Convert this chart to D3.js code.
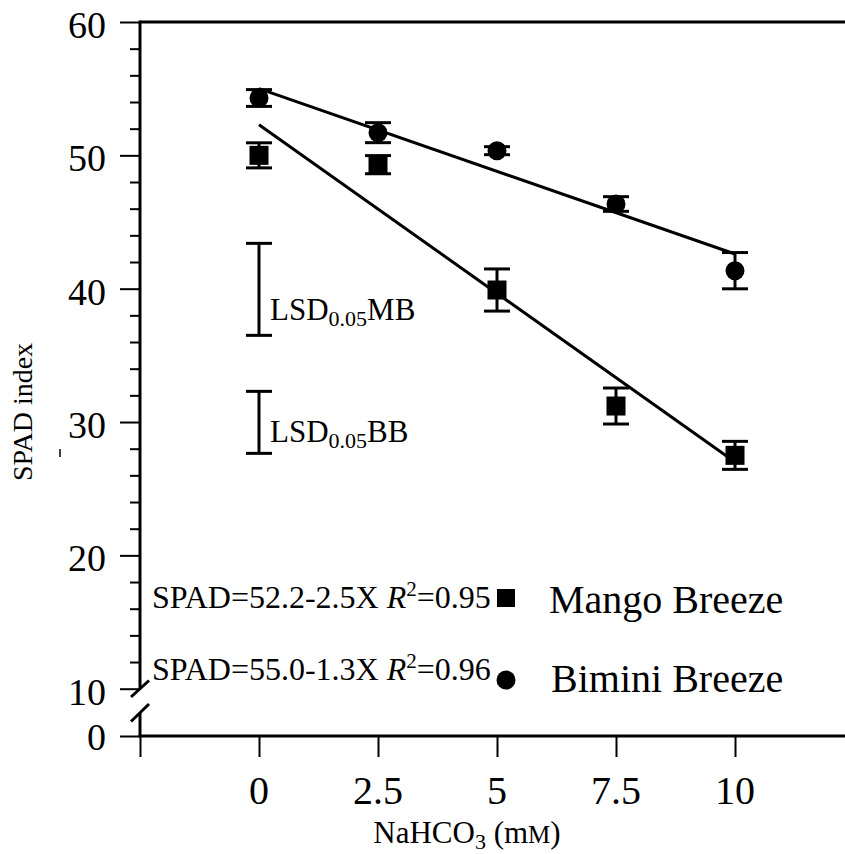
<!DOCTYPE html>
<html><head><meta charset="utf-8">
<script src="https://cdn.jsdelivr.net/npm/d3@7"></script>
<style>body{margin:0;background:#fff}svg{display:block}text{font-family:"Liberation Serif","Times New Roman",serif;fill:#000}</style>
</head><body><svg id="c" width="845" height="854"></svg>
<script>
// ---- data ----
const xValues = [0, 2.5, 5, 7.5, 10];
const xTickLabels = ["0", "2.5", "5", "7.5", "10"];
const mangoMeans = [50.0, 49.3, 39.9, 31.2, 27.5];
const mangoErr = [0.94, 0.68, 1.58, 1.35, 1.05];
const biminiMeans = [54.3, 51.7, 50.35, 46.35, 41.35];
const biminiErr = [0.63, 0.75, 0.3, 0.55, 1.36];
const mangoFit = [[0, 52.3], [10, 27.0]];
const biminiFit = [[0, 55.0], [10, 42.6]];
const lsdMB = [36.5, 43.4];
const lsdBB = [27.65, 32.3];
const yTicksUpper = [10, 20, 30, 40, 50, 60];
const yMinorUpper = [12, 14, 16, 18, 22, 24, 26, 28, 32, 34, 36, 38, 42, 44, 46, 48, 52, 54, 56, 58];
const yTickLower = [0];

const svg = d3.select("#c");
const x = d3.scaleLinear().domain([-2.5, 10]).range([140, 735]);
const y = d3.scaleLinear().domain([10, 60]).range([688.7, 22]);
const y0 = d3.scaleLinear().domain([0, 1]).range([736, 731.2]);
const axisX = x(-2.5);

// frame lines
svg.append("line").attr("x1", axisX).attr("x2", 845).attr("y1", y(60)).attr("y2", y(60)).attr("stroke", "#000").attr("stroke-width", 3);
svg.append("line").attr("x1", axisX - 1.5).attr("x2", 845).attr("y1", y0(0)).attr("y2", y0(0)).attr("stroke", "#000").attr("stroke-width", 3);
// left axis with break
svg.append("line").attr("x1", axisX).attr("x2", axisX).attr("y1", y(60) - 1.5).attr("y2", 689).attr("stroke", "#000").attr("stroke-width", 3);
svg.append("line").attr("x1", axisX).attr("x2", axisX).attr("y1", 713).attr("y2", y0(0)).attr("stroke", "#000").attr("stroke-width", 3);
svg.append("line").attr("x1", 131).attr("y1", 697).attr("x2", 149).attr("y2", 680.5).attr("stroke", "#000").attr("stroke-width", 3);
svg.append("line").attr("x1", 131).attr("y1", 721.5).attr("x2", 149).attr("y2", 704).attr("stroke", "#000").attr("stroke-width", 3);

// y ticks
const gU = svg.append("g").attr("transform", `translate(${axisX},0)`).call(d3.axisLeft(y).tickValues(yTicksUpper).tickSize(20).tickFormat(""));
gU.select(".domain").remove();
gU.selectAll(".tick line").attr("stroke-width", 2);
const gM = svg.append("g").attr("transform", `translate(${axisX},0)`).call(d3.axisLeft(y).tickValues(yMinorUpper).tickSize(10).tickFormat(""));
gM.select(".domain").remove();
gM.selectAll(".tick line").attr("stroke-width", 2);
const gL = svg.append("g").attr("transform", `translate(${axisX},0)`).call(d3.axisLeft(y0).tickValues(yTickLower).tickSize(20).tickFormat(""));
gL.select(".domain").remove();
gL.selectAll(".tick line").attr("stroke-width", 2);
svg.selectAll(".tick text").remove();

svg.selectAll("text.ylab").data(yTicksUpper).enter().append("text")
  .attr("x", 106).attr("y", d => y(d)).attr("dy", "0.42em").attr("text-anchor", "end")
  .attr("font-size", 38).text(d => d);
svg.selectAll("text.ylab0").data(yTickLower).enter().append("text")
  .attr("x", 106).attr("y", d => y0(d)).attr("dy", "0.36em").attr("text-anchor", "end")
  .attr("font-size", 38).text(d => d);

// x ticks
const xTickVals = [-2.5].concat(xValues);
const gX = svg.append("g").attr("transform", `translate(0,${y0(0)})`)
  .call(d3.axisBottom(x).tickValues(xTickVals).tickSize(21).tickFormat(""));
gX.select(".domain").remove();
gX.selectAll(".tick line").attr("stroke-width", 2);
svg.selectAll("text.xlab").data(xValues).enter().append("text")
  .attr("x", d => x(d)).attr("y", 804).attr("text-anchor", "middle")
  .attr("font-size", 40).text((d, i) => xTickLabels[i]);

// axis titles
const xt = svg.append("text").attr("x", 467).attr("y", 843).attr("text-anchor", "middle").attr("font-size", 31);
xt.append("tspan").text("NaHCO");
xt.append("tspan").attr("font-size", 22).attr("dy", 6).text("3");
xt.append("tspan").attr("dy", -6).text(" (m");
xt.append("tspan").attr("font-size", 25).text("M");
xt.append("tspan").text(")");
svg.append("text").attr("transform", "translate(32,412) rotate(-90)").attr("text-anchor", "middle")
  .attr("font-size", 28).text("SPAD index");
svg.append("line").attr("x1", 60).attr("x2", 60).attr("y1", 449).attr("y2", 457).attr("stroke", "#000").attr("stroke-width", 1.5);

// regression lines
const line = d3.line().x(d => x(d[0])).y(d => y(d[1]));
svg.append("path").attr("d", line(mangoFit)).attr("fill", "none").attr("stroke", "#000").attr("stroke-width", 3);
svg.append("path").attr("d", line(biminiFit)).attr("fill", "none").attr("stroke", "#000").attr("stroke-width", 3);

// error bars
function errBars(means, errs) {
  const g = svg.append("g").attr("stroke", "#000").attr("stroke-width", 3);
  xValues.forEach((xv, i) => {
    const lo = y(means[i] - errs[i]), hi = y(means[i] + errs[i]);
    g.append("line").attr("x1", x(xv)).attr("x2", x(xv)).attr("y1", lo).attr("y2", hi);
    g.append("line").attr("x1", x(xv) - 13).attr("x2", x(xv) + 13).attr("y1", lo).attr("y2", lo);
    g.append("line").attr("x1", x(xv) - 13).attr("x2", x(xv) + 13).attr("y1", hi).attr("y2", hi);
  });
}
errBars(mangoMeans, mangoErr);
errBars(biminiMeans, biminiErr);

// markers
svg.selectAll("rect.mb").data(mangoMeans).enter().append("rect")
  .attr("x", (d, i) => x(xValues[i]) - 9.5).attr("y", d => y(d) - 9.5)
  .attr("width", 19).attr("height", 19).attr("fill", "#000");
svg.selectAll("circle.bb").data(biminiMeans).enter().append("circle")
  .attr("cx", (d, i) => x(xValues[i])).attr("cy", d => y(d)).attr("r", 9.5).attr("fill", "#000");

// LSD bars
function lsd(vals, label, baseY) {
  const g = svg.append("g").attr("stroke", "#000").attr("stroke-width", 3);
  const cx = x(0);
  g.append("line").attr("x1", cx).attr("x2", cx).attr("y1", y(vals[0])).attr("y2", y(vals[1]));
  vals.forEach(v => g.append("line").attr("x1", cx - 13).attr("x2", cx + 13).attr("y1", y(v)).attr("y2", y(v)));
  const t = svg.append("text").attr("x", 270).attr("y", baseY).attr("font-size", 31);
  t.append("tspan").text("LSD");
  t.append("tspan").attr("font-size", 22).attr("dy", 6).text("0.05");
  t.append("tspan").attr("dy", -6).text(label);
}
lsd(lsdMB, "MB", 320);
lsd(lsdBB, "BB", 442);

// legend / equations
function eq(txt, r2, baseY) {
  const t = svg.append("text").attr("x", 152).attr("y", baseY).attr("font-size", 32);
  t.append("tspan").text(txt + " ");
  t.append("tspan").attr("font-style", "italic").text("R");
  t.append("tspan").attr("font-size", 21).attr("dy", -12).text("2");
  t.append("tspan").attr("dy", 12).text("=" + r2);
}
eq("SPAD=52.2-2.5X", "0.95", 608);
eq("SPAD=55.0-1.3X", "0.96", 680);
svg.append("rect").attr("x", 497).attr("y", 589).attr("width", 18).attr("height", 18).attr("fill", "#000");
svg.append("circle").attr("cx", 506).attr("cy", 680).attr("r", 9.5).attr("fill", "#000");
svg.append("text").attr("x", 549).attr("y", 613).attr("font-size", 40).text("Mango Breeze");
svg.append("text").attr("x", 551).attr("y", 692).attr("font-size", 40).text("Bimini Breeze");
</script></body></html>
